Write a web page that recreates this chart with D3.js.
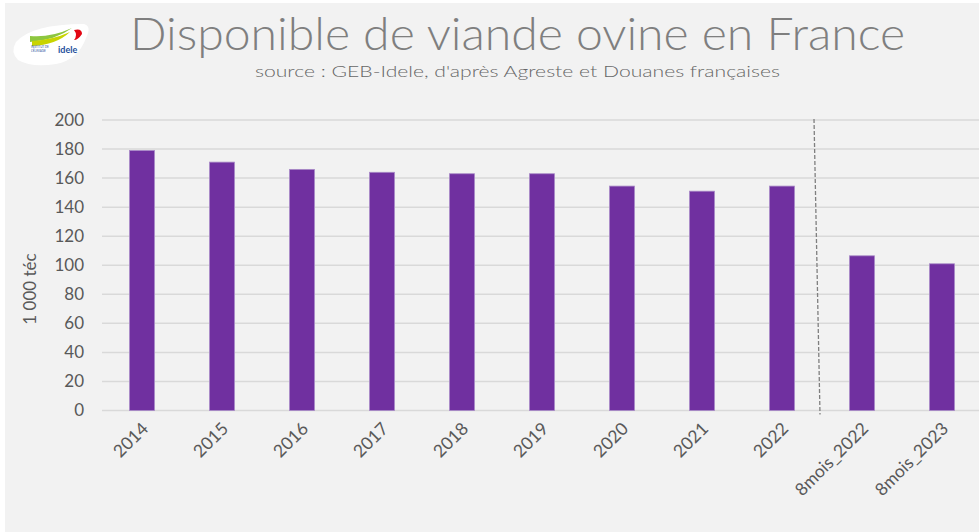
<!DOCTYPE html>
<html>
<script src='https://d3js.org/d3.v7.min.js'></script>
<style>
  html, body { margin: 0; padding: 0; background: #ffffff; }
  svg { display: block; }
  text { font-family: 'Lato', 'DejaVu Sans', sans-serif; }
</style>
<body>
<div id="vis"></div>
</body>
<script>
// data (1 000 tonnes equivalent carcass)
var categories = ['2014', '2015', '2016', '2017', '2018', '2019', '2020', '2021', '2022', '8mois_2022', '8mois_2023'];
var values = [179, 171, 166, 164, 163, 163, 154.5, 151, 154.5, 106.5, 101];
var y_ticks = [0, 20, 40, 60, 80, 100, 120, 140, 160, 180, 200];

var width = 979, height = 532;
var margin = { top: 120, bottom: 121, left: 102, right: -3 };

var svg = d3.select('#vis')
    .append('svg')
    .attr('width', width)
    .attr('height', height);

// panel background
svg.append('rect')
    .attr('x', 5).attr('y', 3)
    .attr('width', width - 5).attr('height', height - 3)
    .attr('fill', '#f2f2f2');

// logo (simplified)
var logo = svg.append('g').attr('transform', 'translate(12,20)');
logo.append('path')
    .attr('d', 'M4,22 Q20,4 72,4 Q80,6 74,18 Q66,40 44,44 Q20,48 6,40 Q-2,32 4,22 Z')
    .attr('fill', '#ffffff');
logo.append('path')
    .attr('d', 'M18,16 Q38,18 60,8 Q44,20 18,22 Z')
    .attr('fill', '#8dc63f');
logo.append('path')
    .attr('d', 'M20,21 Q40,20 58,12 Q44,25 20,26 Z')
    .attr('fill', '#c8d400');
logo.append('path')
    .attr('d', 'M62,10 Q70,8 70,14 Q66,20 62,20 Q66,15 62,10 Z')
    .attr('fill', '#e30613');
logo.append('text')
    .attr('x', 46).attr('y', 33)
    .attr('font-size', 9).attr('font-weight', 'bold')
    .attr('fill', '#1d4f9c')
    .text('idele');
logo.append('text')
    .attr('x', 19).attr('y', 28)
    .attr('font-size', 3).attr('fill', '#1d4f9c')
    .text('INSTITUT DE');
logo.append('text')
    .attr('x', 19).attr('y', 32)
    .attr('font-size', 3).attr('fill', '#1d4f9c')
    .text("L'ÉLEVAGE");

// titles
svg.append('text')
    .attr('x', 130).attr('y', 50)
    .attr('font-size', 46)
    .attr('font-weight', 300)
    .attr('fill', '#7f7f7f')
    .attr('textLength', 775)
    .attr('lengthAdjust', 'spacingAndGlyphs')
    .text('Disponible de viande ovine en France');

svg.append('text')
    .attr('x', 255).attr('y', 77)
    .attr('font-size', 16)
    .attr('font-weight', 300)
    .attr('fill', '#666666')
    .attr('textLength', 525)
    .attr('lengthAdjust', 'spacingAndGlyphs')
    .text("source : GEB-Idele, d'après Agreste et Douanes françaises");

var plot_w = 880;
var plot_h = 290.5;

var g = svg.append('g')
    .attr('transform', 'translate(' + margin.left + ',' + margin.top + ')');

var x_scale = d3.scaleBand()
    .domain(categories)
    .range([0, plot_w])
    .paddingInner(0.6875)
    .paddingOuter(0.34375);

var y_scale = d3.scaleLinear()
    .domain([0, 200])
    .range([plot_h, 0]);

// gridlines
g.selectAll('.grid')
    .data(y_ticks)
    .enter()
    .append('line')
    .attr('class', 'grid')
    .attr('x1', 0)
    .attr('x2', width - margin.left)
    .attr('y1', function(d) { return y_scale(d); })
    .attr('y2', function(d) { return y_scale(d); })
    .attr('stroke', '#d9d9d9')
    .attr('stroke-width', 1.5);

// y axis labels
var y_axis = d3.axisLeft(y_scale)
    .tickValues(y_ticks)
    .tickSize(0)
    .tickPadding(18);

g.append('g')
    .attr('class', 'y axis')
    .call(y_axis)
    .call(function(a) { a.select('.domain').remove(); })
    .selectAll('text')
    .attr('font-size', 17)
    .attr('font-family', "'Lato', 'DejaVu Sans', sans-serif")
    .attr('fill', '#595959');

// bars
g.selectAll('.bar')
    .data(values)
    .enter()
    .append('rect')
    .attr('class', 'bar')
    .attr('x', function(d, i) { return x_scale(categories[i]); })
    .attr('width', x_scale.bandwidth())
    .attr('y', function(d) { return y_scale(d); })
    .attr('height', function(d) { return plot_h - y_scale(d); })
    .attr('fill', '#7030a0')
    .attr('stroke', '#a98bc7')
    .attr('stroke-width', 0.8);

// x axis labels
var x_axis = d3.axisBottom(x_scale)
    .tickSize(0)
    .tickPadding(0);

g.append('g')
    .attr('class', 'x axis')
    .attr('transform', 'translate(0,' + plot_h + ')')
    .call(x_axis)
    .call(function(a) { a.select('.domain').remove(); })
    .selectAll('text')
    .attr('font-size', 17.5)
    .attr('font-family', "'Lato', 'DejaVu Sans', sans-serif")
    .attr('fill', '#595959')
    .attr('text-anchor', 'end')
    .attr('dy', '0.35em')
    .attr('transform', 'translate(3,15) rotate(-45)');

// dashed separator between annual and 8-month values
var sep = x_scale('8mois_2022') - x_scale.step() * x_scale.paddingInner() / 2;
g.append('line')
    .attr('x1', sep - 8).attr('y1', y_scale(200) - 1)
    .attr('x2', sep - 2).attr('y2', plot_h + 4)
    .attr('stroke', '#7f7f7f')
    .attr('stroke-width', 1.3)
    .attr('stroke-dasharray', '4,2');

// y axis title
svg.append('text')
    .attr('transform', 'translate(36,289) rotate(-90)')
    .attr('text-anchor', 'middle')
    .attr('font-size', 17)
    .attr('fill', '#595959')
    .text('1 000 téc');
</script>
</html>
